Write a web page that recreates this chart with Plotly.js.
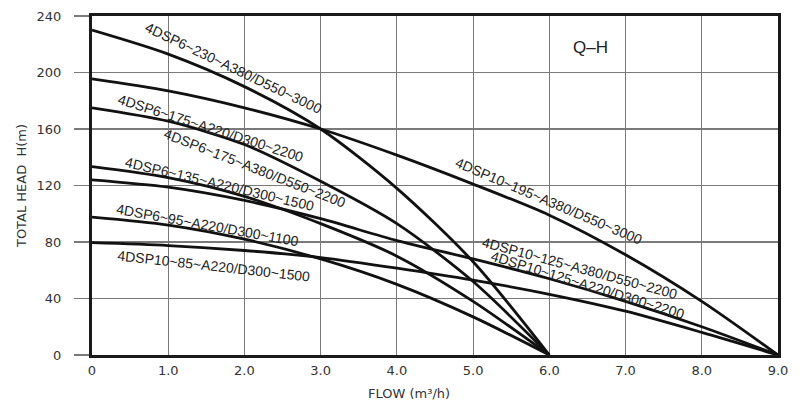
<!DOCTYPE html>
<html>
<head>
<meta charset="utf-8">
<script src="https://cdn.plot.ly/plotly-3.0.1.min.js"></script>
<style>html,body{margin:0;padding:0;background:#fff;}#chart{width:800px;height:415px;}</style>
</head>
<body>
<div id="chart"></div>
<script>
// ---- data ----
const flow6 = [0, 1, 2, 3, 4, 5, 6];
const flow9 = [0, 1, 2, 3, 4, 5, 6, 7, 8, 9];
const head_4DSP6_230 = [230, 213, 190, 160, 118, 66, 0];
const head_4DSP10_195 = [195.5, 187, 175, 160, 141.5, 121, 99, 71, 38, 0];
const head_4DSP6_175 = [175, 165.5, 149, 123, 93, 52, 0];
const head_4DSP6_135 = [133.4, 125.6, 112.3, 93, 70, 38, 0];
const head_4DSP10_125 = [124, 118.8, 109.4, 96.5, 81, 68, 54, 38, 20, 0];
const head_4DSP6_95 = [97.6, 92, 82, 68, 50, 27, 0];
const head_4DSP10_85 = [79.5, 77.5, 74, 69, 61.5, 53, 43, 31, 16, 0];

const xTickVals = [0, 1, 2, 3, 4, 5, 6, 7, 8, 9];
const xTickText = ["0", "1.0", "2.0", "3.0", "4.0", "5.0", "6.0", "7.0", "8.0", "9.0"];
const yTickVals = [0, 40, 80, 120, 160, 200, 240];
const yTickText = ["0", "40", "80", "120", "160", "200", "240"];

const curveLabels = [
  "4DSP6~230~A380/D550~3000",
  "4DSP6~175~A220/D300~2200",
  "4DSP6~175~A380/D550~2200",
  "4DSP6~135~A220/D300~1500",
  "4DSP6~95~A220/D300~1100",
  "4DSP10~85~A220/D300~1500",
  "4DSP10~195~A380/D550~3000",
  "4DSP10~125~A380/D550~2200",
  "4DSP10~125~A220/D300~2200"
];

// ---- drawing ----
const lineStyle = {color: '#111', width: 2.8, shape: 'spline', smoothing: 0.8};
function curve(x, y, name) {
  return {x: x, y: y, name: name, type: 'scatter', mode: 'lines', line: lineStyle, hoverinfo: 'skip', cliponaxis: false};
}
const traces = [
  curve(flow6, head_4DSP6_230, curveLabels[0]),
  curve(flow9, head_4DSP10_195, curveLabels[6]),
  curve(flow6, head_4DSP6_175, curveLabels[1]),
  curve(flow6, head_4DSP6_135, curveLabels[3]),
  curve(flow9, head_4DSP10_125, curveLabels[7]),
  curve(flow6, head_4DSP6_95, curveLabels[4]),
  curve(flow9, head_4DSP10_85, curveLabels[5])
];

const labelFont = {family: 'Liberation Sans, Arial, sans-serif', size: 14, color: '#222'};
function lab(text, x, y, ang) {
  return {text: text, x: x, y: y, xref: 'x', yref: 'y', showarrow: false, textangle: ang, font: labelFont};
}
const annotations = [
  lab(curveLabels[0], 1.858, 203.5, 25.5),
  lab(curveLabels[1], 1.556, 160.9, 17.7),
  lab(curveLabels[2], 2.134, 132.3, 21.3),
  lab(curveLabels[3], 1.675, 121.4, 13.3),
  lab(curveLabels[4], 1.510, 91.8, 10.2),
  lab(curveLabels[5], 1.596, 62.8, 6.3),
  lab(curveLabels[6], 5.992, 108.8, 23),
  lab(curveLabels[7], 6.399, 61.4, 15.2),
  lab(curveLabels[8], 6.504, 49.4, 17),
  {text: 'Q–H', x: 6.537, y: 217.4, xref: 'x', yref: 'y', showarrow: false,
   font: {family: 'Liberation Sans, Arial, sans-serif', size: 17, color: '#222'}},
  {text: 'FLOW (m³/h)', x: (409 - 92) / 686, y: -(393 - 355) / 339, xref: 'paper', yref: 'paper',
   yanchor: 'middle', showarrow: false,
   font: {family: 'DejaVu Sans, sans-serif', size: 13, color: '#333'}}
];

const tickFont = {family: 'DejaVu Sans, sans-serif', size: 13, color: '#333'};
const layout = {
  width: 800, height: 415,
  margin: {l: 92, r: 22, t: 16, b: 60, pad: 0},
  paper_bgcolor: '#fff', plot_bgcolor: '#fff',
  showlegend: false,
  hovermode: false,
  xaxis: {
    range: [0, 9], tickvals: xTickVals, ticktext: xTickText,
    showgrid: true, gridcolor: '#7a7a7a', gridwidth: 1.2,
    zeroline: false, showline: true, linecolor: '#1a1a1a', linewidth: 3, mirror: true,
    ticks: '', ticklabelstandoff: 1, tickfont: tickFont, fixedrange: true
  },
  yaxis: {
    range: [0, 240], tickvals: yTickVals, ticktext: yTickText,
    showgrid: true, gridcolor: '#7a7a7a', gridwidth: 1.2,
    zeroline: false, showline: true, linecolor: '#1a1a1a', linewidth: 3, mirror: true,
    ticks: 'outside', ticklen: 15, tickcolor: '#7a7a7a', tickwidth: 1.2,
    ticklabelstandoff: 10, tickfont: tickFont, fixedrange: true,
    title: {text: 'TOTAL HEAD  H(m)', standoff: 8, font: {family: 'DejaVu Sans, sans-serif', size: 13, color: '#333'}}
  },
  annotations: annotations
};

Plotly.newPlot('chart', traces, layout, {displayModeBar: false, staticPlot: true});
</script>
</body>
</html>
